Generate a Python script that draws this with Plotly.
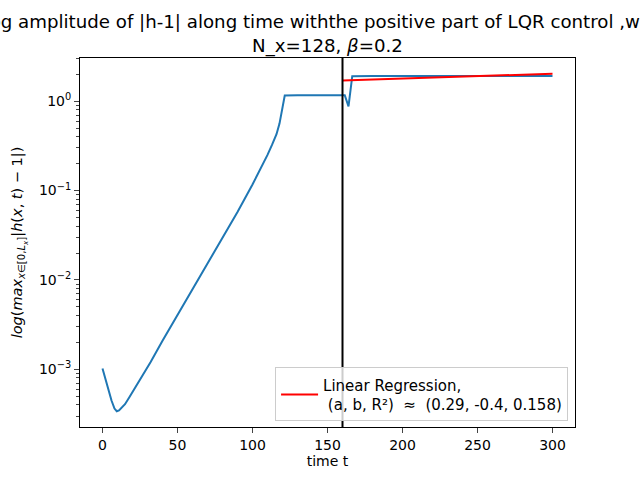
import plotly.graph_objects as go

# amplitude max|h-1| (log axis)
time_t = [0, 2, 4, 6, 8, 9.5, 11, 13, 15, 18, 25, 32, 40, 50, 60, 70, 80, 90, 100,
          106, 110, 113, 116, 118, 119.5, 120.5, 121.5, 130, 140, 150, 160, 161.5,
          164, 166.5, 180, 200, 220, 240, 260, 280, 300]
amplitude = [1.02e-3, 7.6e-4, 5.75e-4, 4.47e-4, 3.63e-4, 3.39e-4, 3.47e-4, 3.72e-4,
             4.07e-4, 4.9e-4, 7.59e-4, 1.2e-3, 2.09e-3, 4.07e-3, 7.76e-3, 0.0151,
             0.0295, 0.0575, 0.117, 0.182, 0.251, 0.324, 0.427, 0.562, 0.759, 0.955,
             1.16, 1.17, 1.17, 1.17, 1.17, 1.17, 0.875, 1.91, 1.915, 1.92, 1.92,
             1.92, 1.92, 1.92, 1.92]

# regression line over the controlled part
reg_t = [160, 300]
reg_y = [1.71, 2.03]
reg_label = "Linear Regression,<br> (a, b, R²)\u00a0 ≈ \u00a0(0.29, -0.4, 0.158)"

control_time = 160

x_ticks = [0, 50, 100, 150, 200, 250, 300]
y_ticks = [1e-3, 1e-2, 1e-1, 1]
y_ticktext = ["10<sup>−3</sup>", "10<sup>−2</sup>", "10<sup>−1</sup>", "10<sup>0</sup>"]
y_minor = [k * 10.0 ** e for e in range(-4, 1) for k in range(2, 10)]

font = "DejaVu Sans"
title_txt = ("Log amplitude of |h-1| along time withthe positive part of LQR control ,with"
             + "\u00a0" * 2 + "<br>N_x=128, <i>β</i>=0.2")

fig = go.Figure()
fig.add_trace(go.Scatter(x=time_t, y=amplitude, mode="lines",
                         line=dict(color="#1f77b4", width=2), showlegend=False))
fig.add_trace(go.Scatter(x=reg_t, y=reg_y, mode="lines", name=reg_label,
                         line=dict(color="red", width=2)))
fig.add_shape(type="line", x0=control_time, x1=control_time, xref="x",
              y0=0, y1=1, yref="paper", line=dict(color="black", width=2))

fig.update_layout(
    width=640, height=480,
    margin=dict(l=80, r=65, t=58, b=53),
    paper_bgcolor="white", plot_bgcolor="white",
    font=dict(family=font, size=14, color="black"),
    title=dict(
        text=title_txt,
        x=0.5, xref="paper", xanchor="center",
        y=0.941, yref="container", yanchor="top",
        font=dict(family=font, size=18.2),
    ),
    legend=dict(x=0.986, y=0.015, xanchor="right", yanchor="bottom",
                itemwidth=37,
                bordercolor="#cccccc", borderwidth=1, bgcolor="rgba(255,255,255,0.8)",
                font=dict(family=font, size=15)),
)
fig.update_xaxes(range=[-15, 315], tickvals=x_ticks, ticks="outside", ticklen=5,
                 tickfont=dict(size=14),
                 showline=True, linecolor="black", linewidth=1, mirror=True,
                 showgrid=False, zeroline=False,
                 title=dict(text="time t", standoff=4, font=dict(size=14)))
fig.update_yaxes(type="log", range=[-3.646, 0.484], tickvals=y_ticks, ticktext=y_ticktext,
                 ticks="outside", ticklen=5, tickfont=dict(size=14),
                 minor=dict(tickvals=y_minor, ticks="outside", ticklen=3, showgrid=False),
                 showline=True, linecolor="black", linewidth=1, mirror=True,
                 showgrid=False, zeroline=False,
                 title=dict(text="<i>log</i>(<i>max</i><sub><i>x</i>∈[0,<i>L<sub>x</sub></i>]</sub>|<i>h</i>(<i>x</i>, <i>t</i>) − 1|)",
                            standoff=12, font=dict(size=14.5)))

# drop the default 8px page margin so the figure sits at the window corner
fig.write_html("out.html", config={"displayModeBar": False},
               post_script="document.body.style.margin='0';")
